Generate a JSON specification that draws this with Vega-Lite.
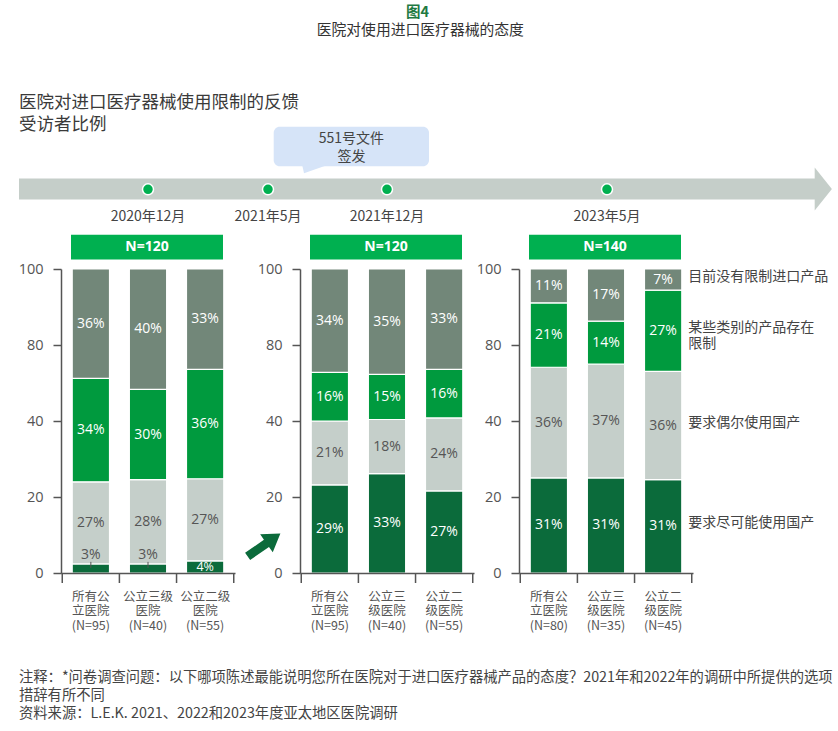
{
  "$schema": "https://vega.github.io/schema/vega-lite/v6.json",
  "padding": {"left": 18, "top": 0, "right": 0, "bottom": 0},
  "autosize": {"type": "pad"},
  "background": "white",
  "bounds": "flush",
  "spacing": 39,
  "config": {"view": {"stroke": null}, "font": "Noto Sans CJK SC"},
  "datasets": {
    "调查": [
      {"时间": "2020年12月", "医院": "所有公\n立医院\n(N=95)", "态度": "要求尽可能使用国产", "比例": 0.03, "次序": 1},
      {"时间": "2020年12月", "医院": "所有公\n立医院\n(N=95)", "态度": "要求偶尔使用国产", "比例": 0.27, "次序": 2},
      {"时间": "2020年12月", "医院": "所有公\n立医院\n(N=95)", "态度": "某些类别的产品存在\n限制", "比例": 0.34, "次序": 3},
      {"时间": "2020年12月", "医院": "所有公\n立医院\n(N=95)", "态度": "目前没有限制进口产品", "比例": 0.36, "次序": 4},
      {"时间": "2020年12月", "医院": "公立三级\n医院\n(N=40)", "态度": "要求尽可能使用国产", "比例": 0.03, "次序": 1},
      {"时间": "2020年12月", "医院": "公立三级\n医院\n(N=40)", "态度": "要求偶尔使用国产", "比例": 0.28, "次序": 2},
      {"时间": "2020年12月", "医院": "公立三级\n医院\n(N=40)", "态度": "某些类别的产品存在\n限制", "比例": 0.30, "次序": 3},
      {"时间": "2020年12月", "医院": "公立三级\n医院\n(N=40)", "态度": "目前没有限制进口产品", "比例": 0.40, "次序": 4},
      {"时间": "2020年12月", "医院": "公立二级\n医院\n(N=55)", "态度": "要求尽可能使用国产", "比例": 0.04, "次序": 1},
      {"时间": "2020年12月", "医院": "公立二级\n医院\n(N=55)", "态度": "要求偶尔使用国产", "比例": 0.27, "次序": 2},
      {"时间": "2020年12月", "医院": "公立二级\n医院\n(N=55)", "态度": "某些类别的产品存在\n限制", "比例": 0.36, "次序": 3},
      {"时间": "2020年12月", "医院": "公立二级\n医院\n(N=55)", "态度": "目前没有限制进口产品", "比例": 0.33, "次序": 4},
      {"时间": "2021年12月", "医院": "所有公\n立医院\n(N=95)", "态度": "要求尽可能使用国产", "比例": 0.29, "次序": 1},
      {"时间": "2021年12月", "医院": "所有公\n立医院\n(N=95)", "态度": "要求偶尔使用国产", "比例": 0.21, "次序": 2},
      {"时间": "2021年12月", "医院": "所有公\n立医院\n(N=95)", "态度": "某些类别的产品存在\n限制", "比例": 0.16, "次序": 3},
      {"时间": "2021年12月", "医院": "所有公\n立医院\n(N=95)", "态度": "目前没有限制进口产品", "比例": 0.34, "次序": 4},
      {"时间": "2021年12月", "医院": "公立三\n级医院\n(N=40)", "态度": "要求尽可能使用国产", "比例": 0.33, "次序": 1},
      {"时间": "2021年12月", "医院": "公立三\n级医院\n(N=40)", "态度": "要求偶尔使用国产", "比例": 0.18, "次序": 2},
      {"时间": "2021年12月", "医院": "公立三\n级医院\n(N=40)", "态度": "某些类别的产品存在\n限制", "比例": 0.15, "次序": 3},
      {"时间": "2021年12月", "医院": "公立三\n级医院\n(N=40)", "态度": "目前没有限制进口产品", "比例": 0.35, "次序": 4},
      {"时间": "2021年12月", "医院": "公立二\n级医院\n(N=55)", "态度": "要求尽可能使用国产", "比例": 0.27, "次序": 1},
      {"时间": "2021年12月", "医院": "公立二\n级医院\n(N=55)", "态度": "要求偶尔使用国产", "比例": 0.24, "次序": 2},
      {"时间": "2021年12月", "医院": "公立二\n级医院\n(N=55)", "态度": "某些类别的产品存在\n限制", "比例": 0.16, "次序": 3},
      {"时间": "2021年12月", "医院": "公立二\n级医院\n(N=55)", "态度": "目前没有限制进口产品", "比例": 0.33, "次序": 4},
      {"时间": "2023年5月", "医院": "所有公\n立医院\n(N=80)", "态度": "要求尽可能使用国产", "比例": 0.31, "次序": 1},
      {"时间": "2023年5月", "医院": "所有公\n立医院\n(N=80)", "态度": "要求偶尔使用国产", "比例": 0.36, "次序": 2},
      {"时间": "2023年5月", "医院": "所有公\n立医院\n(N=80)", "态度": "某些类别的产品存在\n限制", "比例": 0.21, "次序": 3},
      {"时间": "2023年5月", "医院": "所有公\n立医院\n(N=80)", "态度": "目前没有限制进口产品", "比例": 0.11, "次序": 4},
      {"时间": "2023年5月", "医院": "公立三\n级医院\n(N=35)", "态度": "要求尽可能使用国产", "比例": 0.31, "次序": 1},
      {"时间": "2023年5月", "医院": "公立三\n级医院\n(N=35)", "态度": "要求偶尔使用国产", "比例": 0.37, "次序": 2},
      {"时间": "2023年5月", "医院": "公立三\n级医院\n(N=35)", "态度": "某些类别的产品存在\n限制", "比例": 0.14, "次序": 3},
      {"时间": "2023年5月", "医院": "公立三\n级医院\n(N=35)", "态度": "目前没有限制进口产品", "比例": 0.17, "次序": 4},
      {"时间": "2023年5月", "医院": "公立二\n级医院\n(N=45)", "态度": "要求尽可能使用国产", "比例": 0.31, "次序": 1},
      {"时间": "2023年5月", "医院": "公立二\n级医院\n(N=45)", "态度": "要求偶尔使用国产", "比例": 0.36, "次序": 2},
      {"时间": "2023年5月", "医院": "公立二\n级医院\n(N=45)", "态度": "某些类别的产品存在\n限制", "比例": 0.27, "次序": 3},
      {"时间": "2023年5月", "医院": "公立二\n级医院\n(N=45)", "态度": "目前没有限制进口产品", "比例": 0.07, "次序": 4}
    ],
    "样本量": [
      {"时间": "2020年12月", "样本": "N=120"},
      {"时间": "2021年12月", "样本": "N=120"},
      {"时间": "2023年5月", "样本": "N=140"}
    ],
    "时间线": [
      {"日期": "2020-12-01", "标签": "2020年12月"},
      {"日期": "2021-05-01", "标签": "2021年5月"},
      {"日期": "2021-12-01", "标签": "2021年12月"},
      {"日期": "2023-05-01", "标签": "2023年5月"}
    ]
  },
  "vconcat": [
    {
      "width": 700,
      "height": 230,
      "layer": [
        {"data": {"values": [{}]}, "mark": {"type": "rect", "x": -42, "x2": 754, "y": 178.5, "y2": 199.5, "color": "#c5cec9"}, "encoding": {}},
        {"data": {"values": [{}]}, "mark": {"type": "point", "shape": "M -0.4 -1 L 0.4 0 L -0.4 1 Z", "x": 762.3, "y": 189, "size": 1849, "filled": true, "color": "#c5cec9", "opacity": 1, "strokeWidth": 0}, "encoding": {}},
        {"data": {"values": [{}]}, "mark": {"type": "rect", "x": 212.7, "x2": 368, "y": 126.7, "y2": 166.3, "cornerRadius": 6, "color": "#d6e4f8"}, "encoding": {}},
        {"data": {"values": [{}]}, "mark": {"type": "point", "shape": "M -0.96 -0.35 L 0.96 -0.35 L -0.82 0.28 Z", "x": 254.5, "y": 169.4, "size": 784, "filled": true, "color": "#d6e4f8", "opacity": 1, "strokeWidth": 0}, "encoding": {}},
        {"data": {"values": [{}]}, "mark": {"type": "text", "text": "551号文件\n签发", "lineBreak": "\n", "lineHeight": 18, "x": 290.4, "y": 138.5, "align": "center", "baseline": "middle", "fontSize": 14, "color": "#444444"}, "encoding": {}},
        {"data": {"values": [{}]}, "mark": {"type": "text", "text": "图4", "x": 356.5, "y": 13, "align": "center", "baseline": "middle", "fontSize": 14.5, "fontWeight": "bold", "color": "#1f7a43"}, "encoding": {}},
        {"data": {"values": [{}]}, "mark": {"type": "text", "text": "医院对使用进口医疗器械的态度", "x": 359.3, "y": 30.5, "align": "center", "baseline": "middle", "fontSize": 14.8, "color": "#333333"}, "encoding": {}},
        {"data": {"values": [{}]}, "mark": {"type": "text", "text": "医院对进口医疗器械使用限制的反馈\n受访者比例", "lineBreak": "\n", "lineHeight": 21.4, "x": -42, "y": 103.3, "align": "left", "baseline": "middle", "fontSize": 17.5, "color": "#3a3a3a"}, "encoding": {}},
        {
          "data": {"name": "时间线"},
          "mark": {"type": "point", "filled": true, "y": 189.3, "size": 121, "color": "#00b050", "opacity": 1, "stroke": "white", "strokeWidth": 1.5},
          "encoding": {
            "x": {"field": "日期", "type": "temporal", "title": null, "axis": null,
              "scale": {"domain": [{"year": 2020, "month": 12, "date": 1, "utc": true}, {"year": 2023, "month": 5, "date": 1, "utc": true}], "domainRaw": {"expr": "[utc(2020,11,1), utc(2021,4,1), utc(2021,11,1), utc(2023,4,1)]"}, "range": [87, 207, 326, 546], "nice": false, "padding": 0}}
          }
        },
        {
          "data": {"name": "时间线"},
          "mark": {"type": "text", "y": 216.5, "align": "center", "baseline": "middle", "fontSize": 14, "color": "#444444"},
          "encoding": {
            "x": {"field": "日期", "type": "temporal", "title": null, "axis": null},
            "text": {"field": "标签", "type": "nominal"}
          }
        }
      ]
    },
    {
      "bounds": "flush",
      "spacing": 65,
      "resolve": {"scale": {"x": "independent", "y": "independent", "color": "independent"}},
      "hconcat": [
        {
          "width": 174,
          "height": 304,
          "data": {"name": "调查"},
          "layer": [
            {
              "transform": [{"filter": {"field": "时间", "equal": "2020年12月"}}],
              "mark": {"type": "bar", "stroke": "white", "strokeWidth": 1.2},
              "encoding": {
                "x": {"field": "医院", "type": "nominal", "title": null, "sort": null,
                  "scale": {"domain": ["所有公\n立医院\n(N=95)", "公立三级\n医院\n(N=40)", "公立二级\n医院\n(N=55)"], "paddingInner": 0.347, "paddingOuter": 0.196},
                  "axis": {"title": null, "labelAngle": 0, "ticks": false, "tickSize": 0, "labelExpr": "split(datum.label, '\\n')", "labelFontSize": 12.5, "labelLineHeight": 14.7, "labelColor": "#555555", "labelPadding": 17, "domainColor": "#555555", "domainWidth": 1.5, "zindex": 1}},
                "y": {"field": "比例", "type": "quantitative", "title": null, "stack": "normalize",
                  "scale": {"domain": [0, 1], "nice": false},
                  "axis": {"title": null, "values": [0, 0.25, 0.5, 0.75, 1], "labelExpr": "datum.value >= 0.99 ? '100' : datum.value >= 0.74 ? '80' : datum.value >= 0.49 ? '40' : datum.value >= 0.24 ? '20' : '0'", "grid": false, "tickSize": 8, "tickColor": "#555555", "tickWidth": 1.5, "domainColor": "#555555", "domainWidth": 1.5, "labelFont": "Open Sans", "labelFontSize": 14.5, "labelColor": "#555555", "labelPadding": 10, "zindex": 1}},
                "color": {"field": "态度", "type": "nominal", "legend": null,
                  "scale": {"domain": ["要求尽可能使用国产", "要求偶尔使用国产", "某些类别的产品存在\n限制", "目前没有限制进口产品"], "range": ["#0b6b3b", "#c5cfca", "#009a3e", "#728779"]}},
                "order": {"field": "次序", "type": "quantitative"}
              }
            },
            {
              "transform": [{"filter": {"field": "时间", "equal": "2020年12月"}}],
              "mark": {"type": "text", "font": "Open Sans", "baseline": "middle", "align": "center"},
              "encoding": {
                "x": {"field": "医院", "type": "nominal", "title": null, "sort": null},
                "y": {"field": "比例", "type": "quantitative", "title": null, "stack": "normalize", "bandPosition": 0.5},
                "detail": {"field": "态度", "type": "nominal"},
                "order": {"field": "次序", "type": "quantitative"},
                "text": {"condition": {"test": "datum['比例'] <= 0.03", "value": ""}, "field": "比例", "type": "quantitative", "format": ".0%"},
                "color": {"condition": {"test": "datum['态度'] === '要求偶尔使用国产'", "value": "#555555"}, "value": "#ffffff"},
                "size": {"condition": {"test": "datum['比例'] < 0.05", "value": 12.5}, "value": 14}
              }
            },
            {
              "transform": [{"filter": {"field": "时间", "equal": "2020年12月"}}, {"filter": "datum['比例'] <= 0.03"}],
              "mark": {"type": "text", "font": "Open Sans", "fontSize": 14, "baseline": "middle", "align": "center", "dy": -9, "color": "#555555"},
              "encoding": {
                "x": {"field": "医院", "type": "nominal", "title": null, "sort": null},
                "y": {"field": "比例", "type": "quantitative", "title": null, "stack": null},
                "text": {"field": "比例", "type": "quantitative", "format": ".0%"}
              }
            },
            {
              "transform": [{"filter": {"field": "时间", "equal": "2020年12月"}}, {"filter": "datum['比例'] <= 0.03"}],
              "mark": {"type": "rule", "color": "#555555", "strokeWidth": 1, "yOffset": 4, "y2Offset": -2},
              "encoding": {
                "x": {"field": "医院", "type": "nominal", "title": null, "sort": null},
                "y": {"field": "比例", "type": "quantitative", "title": null, "stack": null},
                "y2": {"field": "比例"}
              }
            },
            {
              "transform": [{"filter": {"field": "时间", "equal": "2020年12月"}}, {"filter": {"field": "次序", "equal": 1}}],
              "mark": {"type": "rule", "color": "#555555", "strokeWidth": 1.5, "xOffset": -28.6, "y2Offset": 10},
              "encoding": {
                "x": {"field": "医院", "type": "nominal", "title": null, "sort": null},
                "y": {"datum": 0},
                "y2": {"datum": 0}
              }
            },
            {
              "transform": [{"filter": {"field": "时间", "equal": "2020年12月"}}, {"filter": {"field": "次序", "equal": 1}}, {"filter": {"field": "医院", "equal": "公立二级\n医院\n(N=55)"}}],
              "mark": {"type": "rule", "color": "#555555", "strokeWidth": 1.5, "xOffset": 28.6, "y2Offset": 10},
              "encoding": {
                "x": {"field": "医院", "type": "nominal", "title": null, "sort": null},
                "y": {"datum": 0},
                "y2": {"datum": 0}
              }
            },
            {
              "data": {"name": "样本量"},
              "transform": [{"filter": {"field": "时间", "equal": "2020年12月"}}],
              "mark": {"type": "rect", "x": 10, "x2": 162, "y": -34.3, "y2": -9.5, "color": "#00b050"},
              "encoding": {}
            },
            {
              "data": {"name": "样本量"},
              "transform": [{"filter": {"field": "时间", "equal": "2020年12月"}}],
              "mark": {"type": "text", "x": 86, "y": -21.8, "align": "center", "baseline": "middle", "font": "Open Sans", "fontWeight": "bold", "fontSize": 14, "color": "white"},
              "encoding": {"text": {"field": "样本", "type": "nominal"}}
            },
            {
              "data": {"values": [{}]},
              "mark": {"type": "point", "shape": "M -1 -0.22 L 0.15 -0.22 L 0.15 -0.55 L 1 0 L 0.15 0.55 L 0.15 0.22 L -1 0.22 Z", "x": 203, "y": 276, "size": 1600, "angle": -35, "filled": true, "color": "#0b6b3b", "opacity": 1, "strokeWidth": 0},
              "encoding": {}
            },
            {
              "data": {"values": [{}]},
              "mark": {"type": "text", "text": "注释：*问卷调查问题：以下哪项陈述最能说明您所在医院对于进口医疗器械产品的态度？2021年和2022年的调研中所提供的选项\n措辞有所不同\n资料来源：L.E.K. 2021、2022和2023年度亚太地区医院调研", "lineBreak": "\n", "lineHeight": 18, "x": -42, "y": 409, "align": "left", "baseline": "middle", "fontSize": 14.3, "color": "#444444"},
              "encoding": {}
            }
          ]
        },
        {
          "bounds": "flush",
          "spacing": 45,
          "resolve": {"scale": {"x": "independent", "y": "independent", "color": "independent"}},
          "hconcat": [
            {
              "width": 174,
              "height": 304,
              "data": {"name": "调查"},
              "layer": [
                {
                  "transform": [{"filter": {"field": "时间", "equal": "2021年12月"}}],
                  "mark": {"type": "bar", "stroke": "white", "strokeWidth": 1.2},
                  "encoding": {
                    "x": {"field": "医院", "type": "nominal", "title": null, "sort": null,
                      "scale": {"domain": ["所有公\n立医院\n(N=95)", "公立三\n级医院\n(N=40)", "公立二\n级医院\n(N=55)"], "paddingInner": 0.347, "paddingOuter": 0.196},
                      "axis": {"title": null, "labelAngle": 0, "ticks": false, "tickSize": 0, "labelExpr": "split(datum.label, '\\n')", "labelFontSize": 12.5, "labelLineHeight": 14.7, "labelColor": "#555555", "labelPadding": 17, "domainColor": "#555555", "domainWidth": 1.5, "zindex": 1}},
                    "y": {"field": "比例", "type": "quantitative", "title": null, "stack": "normalize",
                      "scale": {"domain": [0, 1], "nice": false},
                      "axis": {"title": null, "values": [0, 0.25, 0.5, 0.75, 1], "labelExpr": "datum.value >= 0.99 ? '100' : datum.value >= 0.74 ? '80' : datum.value >= 0.49 ? '40' : datum.value >= 0.24 ? '20' : '0'", "grid": false, "tickSize": 8, "tickColor": "#555555", "tickWidth": 1.5, "domainColor": "#555555", "domainWidth": 1.5, "labelFont": "Open Sans", "labelFontSize": 14.5, "labelColor": "#555555", "labelPadding": 10, "zindex": 1}},
                    "color": {"field": "态度", "type": "nominal", "legend": null,
                      "scale": {"domain": ["要求尽可能使用国产", "要求偶尔使用国产", "某些类别的产品存在\n限制", "目前没有限制进口产品"], "range": ["#0b6b3b", "#c5cfca", "#009a3e", "#728779"]}},
                    "order": {"field": "次序", "type": "quantitative"}
                  }
                },
                {
                  "transform": [{"filter": {"field": "时间", "equal": "2021年12月"}}],
                  "mark": {"type": "text", "font": "Open Sans", "baseline": "middle", "align": "center", "fontSize": 14},
                  "encoding": {
                    "x": {"field": "医院", "type": "nominal", "title": null, "sort": null},
                    "y": {"field": "比例", "type": "quantitative", "title": null, "stack": "normalize", "bandPosition": 0.5},
                    "detail": {"field": "态度", "type": "nominal"},
                    "order": {"field": "次序", "type": "quantitative"},
                    "text": {"field": "比例", "type": "quantitative", "format": ".0%"},
                    "color": {"condition": {"test": "datum['态度'] === '要求偶尔使用国产'", "value": "#555555"}, "value": "#ffffff"}
                  }
                },
                {
                  "transform": [{"filter": {"field": "时间", "equal": "2021年12月"}}, {"filter": {"field": "次序", "equal": 1}}],
                  "mark": {"type": "rule", "color": "#555555", "strokeWidth": 1.5, "xOffset": -28.6, "y2Offset": 10},
                  "encoding": {
                    "x": {"field": "医院", "type": "nominal", "title": null, "sort": null},
                    "y": {"datum": 0},
                    "y2": {"datum": 0}
                  }
                },
                {
                  "transform": [{"filter": {"field": "时间", "equal": "2021年12月"}}, {"filter": {"field": "次序", "equal": 1}}, {"filter": {"field": "医院", "equal": "公立二\n级医院\n(N=55)"}}],
                  "mark": {"type": "rule", "color": "#555555", "strokeWidth": 1.5, "xOffset": 28.6, "y2Offset": 10},
                  "encoding": {
                    "x": {"field": "医院", "type": "nominal", "title": null, "sort": null},
                    "y": {"datum": 0},
                    "y2": {"datum": 0}
                  }
                },
                {
                  "data": {"name": "样本量"},
                  "transform": [{"filter": {"field": "时间", "equal": "2021年12月"}}],
                  "mark": {"type": "rect", "x": 10, "x2": 162, "y": -34.3, "y2": -9.5, "color": "#00b050"},
                  "encoding": {}
                },
                {
                  "data": {"name": "样本量"},
                  "transform": [{"filter": {"field": "时间", "equal": "2021年12月"}}],
                  "mark": {"type": "text", "x": 86, "y": -21.8, "align": "center", "baseline": "middle", "font": "Open Sans", "fontWeight": "bold", "fontSize": 14, "color": "white"},
                  "encoding": {"text": {"field": "样本", "type": "nominal"}}
                }
              ]
            },
            {
              "width": 174,
              "height": 304,
              "data": {"name": "调查"},
              "layer": [
                {
                  "transform": [{"filter": {"field": "时间", "equal": "2023年5月"}}],
                  "mark": {"type": "bar", "stroke": "white", "strokeWidth": 1.2},
                  "encoding": {
                    "x": {"field": "医院", "type": "nominal", "title": null, "sort": null,
                      "scale": {"domain": ["所有公\n立医院\n(N=80)", "公立三\n级医院\n(N=35)", "公立二\n级医院\n(N=45)"], "paddingInner": 0.347, "paddingOuter": 0.196},
                      "axis": {"title": null, "labelAngle": 0, "ticks": false, "tickSize": 0, "labelExpr": "split(datum.label, '\\n')", "labelFontSize": 12.5, "labelLineHeight": 14.7, "labelColor": "#555555", "labelPadding": 17, "domainColor": "#555555", "domainWidth": 1.5, "zindex": 1}},
                    "y": {"field": "比例", "type": "quantitative", "title": null, "stack": "normalize",
                      "scale": {"domain": [0, 1], "nice": false},
                      "axis": {"title": null, "values": [0, 0.25, 0.5, 0.75, 1], "labelExpr": "datum.value >= 0.99 ? '100' : datum.value >= 0.74 ? '80' : datum.value >= 0.49 ? '40' : datum.value >= 0.24 ? '20' : '0'", "grid": false, "tickSize": 8, "tickColor": "#555555", "tickWidth": 1.5, "domainColor": "#555555", "domainWidth": 1.5, "labelFont": "Open Sans", "labelFontSize": 14.5, "labelColor": "#555555", "labelPadding": 10, "zindex": 1}},
                    "color": {"field": "态度", "type": "nominal", "legend": null,
                      "scale": {"domain": ["要求尽可能使用国产", "要求偶尔使用国产", "某些类别的产品存在\n限制", "目前没有限制进口产品"], "range": ["#0b6b3b", "#c5cfca", "#009a3e", "#728779"]}},
                    "order": {"field": "次序", "type": "quantitative"}
                  }
                },
                {
                  "transform": [{"filter": {"field": "时间", "equal": "2023年5月"}}],
                  "mark": {"type": "text", "font": "Open Sans", "baseline": "middle", "align": "center", "fontSize": 14},
                  "encoding": {
                    "x": {"field": "医院", "type": "nominal", "title": null, "sort": null},
                    "y": {"field": "比例", "type": "quantitative", "title": null, "stack": "normalize", "bandPosition": 0.5},
                    "detail": {"field": "态度", "type": "nominal"},
                    "order": {"field": "次序", "type": "quantitative"},
                    "text": {"field": "比例", "type": "quantitative", "format": ".0%"},
                    "color": {"condition": {"test": "datum['态度'] === '要求偶尔使用国产'", "value": "#555555"}, "value": "#ffffff"}
                  }
                },
                {
                  "transform": [{"filter": {"field": "时间", "equal": "2023年5月"}}, {"filter": {"field": "医院", "equal": "公立二\n级医院\n(N=45)"}}],
                  "mark": {"type": "text", "align": "left", "baseline": "middle", "dx": 25, "dy": -3, "fontSize": 14, "color": "#444444", "lineBreak": "\n", "lineHeight": 16},
                  "encoding": {
                    "x": {"field": "医院", "type": "nominal", "title": null, "sort": null},
                    "y": {"field": "比例", "type": "quantitative", "title": null, "stack": "normalize", "bandPosition": 0.5},
                    "detail": {"field": "态度", "type": "nominal"},
                    "order": {"field": "次序", "type": "quantitative"},
                    "text": {"field": "态度", "type": "nominal"}
                  }
                },
                {
                  "transform": [{"filter": {"field": "时间", "equal": "2023年5月"}}, {"filter": {"field": "次序", "equal": 1}}],
                  "mark": {"type": "rule", "color": "#555555", "strokeWidth": 1.5, "xOffset": -28.6, "y2Offset": 10},
                  "encoding": {
                    "x": {"field": "医院", "type": "nominal", "title": null, "sort": null},
                    "y": {"datum": 0},
                    "y2": {"datum": 0}
                  }
                },
                {
                  "transform": [{"filter": {"field": "时间", "equal": "2023年5月"}}, {"filter": {"field": "次序", "equal": 1}}, {"filter": {"field": "医院", "equal": "公立二\n级医院\n(N=45)"}}],
                  "mark": {"type": "rule", "color": "#555555", "strokeWidth": 1.5, "xOffset": 28.6, "y2Offset": 10},
                  "encoding": {
                    "x": {"field": "医院", "type": "nominal", "title": null, "sort": null},
                    "y": {"datum": 0},
                    "y2": {"datum": 0}
                  }
                },
                {
                  "data": {"name": "样本量"},
                  "transform": [{"filter": {"field": "时间", "equal": "2023年5月"}}],
                  "mark": {"type": "rect", "x": 10, "x2": 162, "y": -34.3, "y2": -9.5, "color": "#00b050"},
                  "encoding": {}
                },
                {
                  "data": {"name": "样本量"},
                  "transform": [{"filter": {"field": "时间", "equal": "2023年5月"}}],
                  "mark": {"type": "text", "x": 86, "y": -21.8, "align": "center", "baseline": "middle", "font": "Open Sans", "fontWeight": "bold", "fontSize": 14, "color": "white"},
                  "encoding": {"text": {"field": "样本", "type": "nominal"}}
                }
              ]
            }
          ]
        }
      ]
    }
  ]
}
